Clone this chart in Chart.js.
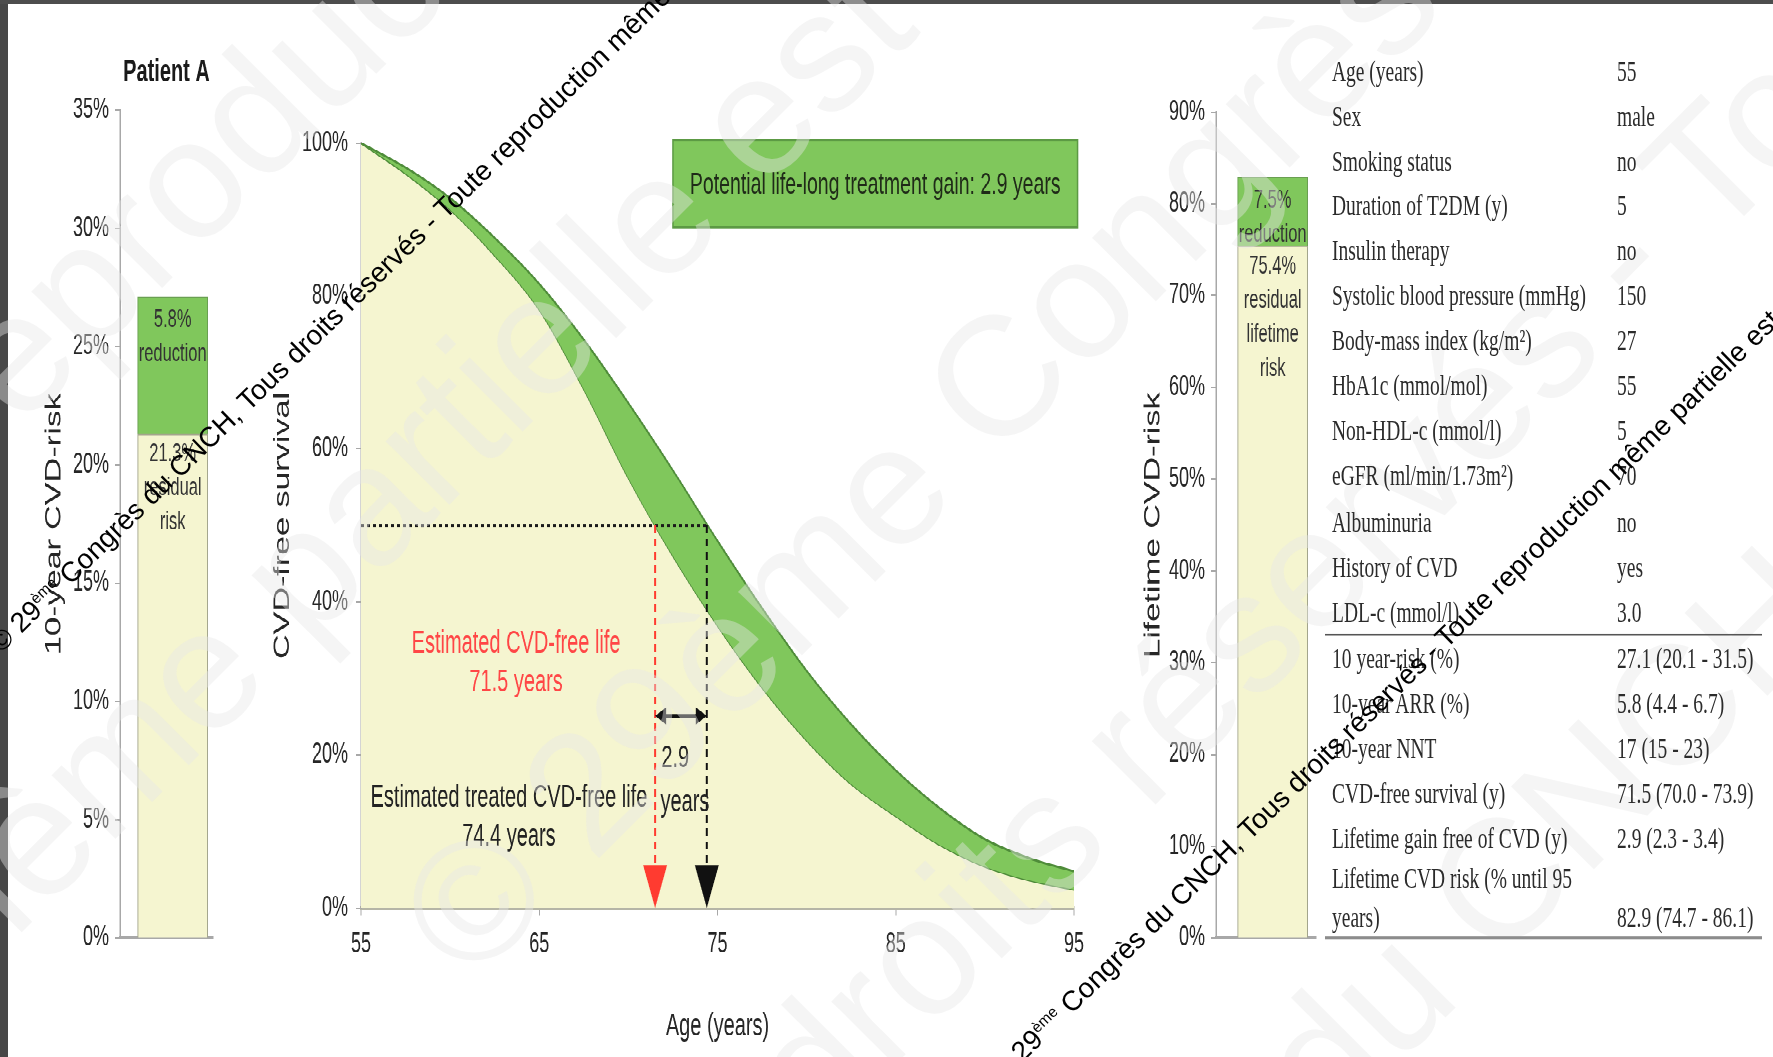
<!DOCTYPE html>
<html lang="en">
<head>
<meta charset="utf-8">
<title>Patient A - CVD risk</title>
<script src="https://cdn.jsdelivr.net/npm/chart.js@4.4.1/dist/chart.umd.min.js"></script>
<style>
  html, body { margin: 0; background: #fff; }
  body { position: relative; width: 1773px; height: 1057px; overflow: hidden; font-family: 'Liberation Sans', Arial, sans-serif; }
  .frame-left { position: absolute; left: 0; top: 0; width: 8px; height: 1057px; background: #474747; }
  .frame-top { position: absolute; left: 0; top: 0; width: 1773px; height: 4px; background: #4d4d4d; }
  /* the original figure was stretched vertically, so everything is laid out flat and scaled */
  .fig { position: absolute; left: 0; top: 0; width: 1773px; height: 682px; transform: scaleY(1.55); transform-origin: 0 0; }
  .fig canvas { position: absolute; top: 30px; }
  #tenYear { left: 10px; }
  #survival { left: 240px; }
  #lifetime { left: 1110px; }
  #table { position: absolute; left: 1325px; top: 30.65px; width: 437px; font-family: 'Liberation Serif', 'Times New Roman', serif; font-size: 19.5px; color: #2b2b2b; }
  .row { display: flex; height: 29.1px; line-height: 29.1px; padding-left: 7px; }
  .row .lab { width: 285px; white-space: pre-line; }
  .row.last { height: auto; line-height: 24.5px; align-items: flex-end; }
  .row.sep { border-bottom: 1.3px solid #555; }
  .row.end { border-bottom: 2px solid #8c8c8c; }
  .big { position: absolute; font: 170px 'Liberation Sans', Arial, sans-serif; color: rgba(232, 232, 232, 0.42); white-space: nowrap; line-height: 170px; transform-origin: 0 144px; transform: rotate(-45deg); }
  .wm { position: absolute; font: 28px 'Liberation Sans', Arial, sans-serif; color: #000; white-space: nowrap; line-height: 28px; transform-origin: 0 23.7px; transform: rotate(-44.3deg); }
  .wm sup { font-size: 0.55em; }
</style>
</head>
<body>
<div class="fig">
  <canvas id="tenYear" width="230" height="610"></canvas>
  <canvas id="survival" width="860" height="652"></canvas>
  <canvas id="lifetime" width="220" height="610"></canvas>
</div>
<div class="frame-left"></div>
<div class="frame-top"></div>
<div class="big" style="left:-20px; top:326px">reproduction même partielle est interdite</div>
<div class="big" style="left:-60px; top:870px">même partielle est interdite</div>
<div class="big" style="left:471px; top:842px">© 29ème Congrès du CNCH</div>
<div class="big" style="left:820px; top:996px">droits réservés - Toute reproduction</div>
<div class="big" style="left:1330px; top:989px">du CNCH, Tous droits</div>
<div class="fig">
  <div id="table"></div>
</div>
<div class="wm" style="left:-3.5px; top:626.3px">© 29<sup>ème</sup> Congrès du CNCH, Tous droits réservés - Toute reproduction même partielle est interdite</div>
<div class="wm" style="left:997.5px; top:1055.3px">© 29<sup>ème</sup> Congrès du CNCH, Tous droits réservés - Toute reproduction même partielle est interdite</div>

<script>
// 10-year risk bar (Patient A)
const tenYearResidual = [21.3];
const tenYearReduction = [5.8];
const tenYearTicks = [0, 5, 10, 15, 20, 25, 30, 35];

// lifetime risk bar
const lifetimeResidual = [75.4];
const lifetimeReduction = [7.5];
const lifetimeTicks = [0, 10, 20, 30, 40, 50, 60, 70, 80, 90];

// CVD-free survival curves
const ages =              [55, 57.5, 60,   62.5, 65,   67.5, 70,   72.5, 75,   77.5, 80,   82.5, 85,   87.5, 90,  92.5, 95];
const untreatedSurvival = [100, 96.0, 91.3, 85.3, 78.2, 67.8, 56.2, 46.0, 36.9, 28.8, 21.9, 16.2, 12.0, 8.2, 5.4, 3.6, 2.4];
const treatedSurvival =   [100, 96.8, 92.8, 87.6, 81.6, 74.3, 66.0, 57.2, 48.0, 39.2, 31.0, 24.0, 18.0, 13.0, 9.0, 6.5, 4.8];
const ageTicks = [55, 65, 75, 85, 95];
const survivalTicks = [0, 20, 40, 60, 80, 100];
const untreatedMedian = 71.5;
const treatedMedian = 74.4;
const gainYears = 2.9;

// patient table
const patientLabels = ['Age (years)', 'Sex', 'Smoking status', 'Duration of T2DM (y)', 'Insulin therapy',
  'Systolic blood pressure (mmHg)', 'Body-mass index (kg/m²)', 'HbA1c (mmol/mol)', 'Non-HDL-c (mmol/l)',
  'eGFR (ml/min/1.73m²)', 'Albuminuria', 'History of CVD', 'LDL-c (mmol/l)'];
const patientValues = ['55', 'male', 'no', '5', 'no', '150', '27', '55', '5', '70', 'no', 'yes', '3.0'];
const outcomeLabels = ['10 year-risk (%)', '10-year ARR (%)', '10-year NNT', 'CVD-free survival (y)',
  'Lifetime gain free of CVD (y)', 'Lifetime CVD risk (% until 95\nyears)'];
const outcomeValues = ['27.1 (20.1 - 31.5)', '5.8 (4.4 - 6.7)', '17 (15 - 23)', '71.5 (70.0 - 73.9)',
  '2.9 (2.3 - 3.4)', '82.9 (74.7 - 86.1)'];

const yellow = '#f5f5d0';
const green = '#80c75c';
const bandEdge = '#4f8c3a';
const axisGrey = '#a8a8a8';
const textGrey = '#262626';
const sans = "'Liberation Sans', Arial, sans-serif";

Chart.defaults.font.family = sans;

// pin axis sizes so the plot areas land where the figure has them
function fixSize(size) {
  return (scale) => {
    if (scale.isHorizontal()) scale.height = size;
    else scale.width = size;
    scale.paddingTop = 0;
    scale.paddingBottom = 0;
    scale.paddingLeft = 0;
    scale.paddingRight = 0;
  };
}

function useTicks(list) {
  return (scale) => { scale.ticks = list.map(v => ({ value: v })); };
}

const barNotes = {
  id: 'barNotes',
  afterDatasetsDraw(chart, args, opts) {
    const { ctx, chartArea } = chart;
    ctx.save();
    ctx.fillStyle = '#333';
    ctx.textAlign = 'center';
    ctx.textBaseline = 'middle';
    ctx.font = '16.5px ' + sans;
    chart.data.datasets.forEach((ds, i) => {
      const bar = chart.getDatasetMeta(i).data[0];
      const top = Math.min(bar.y, bar.base);
      ds.notes.forEach((t, k) => ctx.fillText(t, bar.x, top + ds.noteOffset + k * 22));
    });
    if (opts.heading) {
      ctx.fillStyle = '#1a1a1a';
      ctx.font = 'bold 20px ' + sans;
      ctx.fillText(opts.heading, (chartArea.left + chartArea.right) / 2, chartArea.top - 24);
    }
    ctx.restore();
  }
};

function riskBar(id, residual, reduction, ticks, yMax, notes, layout) {
  return new Chart(document.getElementById(id), {
    type: 'bar',
    data: {
      datasets: [
        {
          data: residual.map(v => ({ x: 0.6, y: v })),
          backgroundColor: yellow,
          borderColor: '#a3a58c',
          borderWidth: 1,
          barThickness: 70,
          notes: notes.residual,
          noteOffset: 13
        },
        {
          data: reduction.map(v => ({ x: 0.6, y: v })),
          backgroundColor: green,
          borderColor: '#6a9f52',
          borderWidth: 1,
          barThickness: 70,
          notes: notes.reduction,
          noteOffset: 15
        }
      ]
    },
    options: {
      responsive: false,
      animation: false,
      devicePixelRatio: 2,
      layout: { padding: { top: layout.top, right: layout.right } },
      plugins: {
        legend: { display: false },
        tooltip: { enabled: false },
        barNotes: { heading: notes.heading }
      },
      scales: {
        x: {
          type: 'linear', min: 0, max: 1, stacked: true, z: 1,
          ticks: { display: false },
          grid: { display: false },
          border: { display: true, color: axisGrey, width: 2 },
          afterFit: fixSize(34.8)
        },
        y: {
          min: 0, max: yMax, stacked: true, z: 1,
          afterBuildTicks: useTicks(ticks),
          ticks: { callback: v => v + '%', font: { size: 18 }, color: textGrey, padding: 6 },
          grid: { drawOnChartArea: false, drawTicks: true, tickLength: 5, color: axisGrey },
          border: { display: true, color: axisGrey, width: 1.5 },
          title: { display: true, text: notes.axis, font: { size: 22 }, color: textGrey, padding: { top: layout.titlePad } },
          afterFit: fixSize(layout.axis)
        }
      }
    },
    plugins: [barNotes]
  });
}

riskBar('tenYear', tenYearResidual, tenYearReduction, tenYearTicks, 35, {
  heading: 'Patient A',
  axis: '10-year CVD-risk',
  reduction: [tenYearReduction[0] + '%', 'reduction'],
  residual: [tenYearResidual[0] + '%', 'residual', 'risk']
}, { top: 41, right: 27, axis: 110, titlePad: 31 });

riskBar('lifetime', lifetimeResidual, lifetimeReduction, lifetimeTicks, 90, {
  axis: 'Lifetime CVD-risk',
  reduction: [lifetimeReduction[0] + '%', 'reduction'],
  residual: [lifetimeResidual[0] + '%', 'residual', 'lifetime', 'risk']
}, { top: 42.3, right: 14, axis: 106, titlePad: 30 });

const survivalNotes = {
  id: 'survivalNotes',
  afterDatasetsDraw(chart) {
    const { ctx, scales: { x, y } } = chart;
    const px = v => x.getPixelForValue(v);
    const py = v => y.getPixelForValue(v);
    ctx.save();

    // median guide
    ctx.setLineDash([3, 3]);
    ctx.lineWidth = 2;
    ctx.strokeStyle = '#1a1a1a';
    ctx.beginPath();
    ctx.moveTo(px(55), py(50));
    ctx.lineTo(px(treatedMedian), py(50));
    ctx.stroke();

    // drop lines down to the age axis
    [[untreatedMedian, '#ff3b30'], [treatedMedian, '#111']].forEach(([age, col]) => {
      const cx = px(age);
      ctx.setLineDash([5, 3.5]);
      ctx.lineWidth = 2;
      ctx.strokeStyle = col;
      ctx.beginPath();
      ctx.moveTo(cx, py(50));
      ctx.lineTo(cx, py(5.6));
      ctx.stroke();
      ctx.setLineDash([]);
      ctx.fillStyle = col;
      ctx.beginPath();
      ctx.moveTo(cx - 12, py(5.6));
      ctx.lineTo(cx + 12, py(5.6));
      ctx.lineTo(cx, py(0));
      ctx.closePath();
      ctx.fill();
    });

    // gain arrow
    const ay = py(25.1);
    const a0 = px(untreatedMedian);
    const a1 = px(treatedMedian);
    ctx.lineWidth = 2.6;
    ctx.strokeStyle = '#111';
    ctx.fillStyle = '#111';
    ctx.beginPath();
    ctx.moveTo(a0 + 8, ay);
    ctx.lineTo(a1 - 8, ay);
    ctx.stroke();
    [[a0, 1], [a1, -1]].forEach(([ex, d]) => {
      ctx.beginPath();
      ctx.moveTo(ex, ay);
      ctx.lineTo(ex + 11 * d, ay - 5.5);
      ctx.lineTo(ex + 11 * d, ay + 5.5);
      ctx.closePath();
      ctx.fill();
    });

    // labels
    ctx.font = '20px ' + sans;
    ctx.textBaseline = 'middle';
    ctx.textAlign = 'center';
    ctx.fillStyle = '#ff4646';
    ctx.fillText('Estimated CVD-free life', px(63.7), py(34.5));
    ctx.fillText(untreatedMedian + ' years', px(63.7), py(29.4));
    ctx.fillStyle = '#222';
    ctx.fillText('Estimated treated CVD-free life', px(63.3), py(14.4));
    ctx.fillText(treatedMedian + ' years', px(63.3), py(9.3));
    ctx.textAlign = 'left';
    ctx.fillText(String(gainYears), px(71.85), py(19.5));
    ctx.fillText('years', px(71.8), py(13.7));

    // gain box
    const bx0 = px(72.5), bx1 = px(95.2), by0 = py(100.4), by1 = py(89.0);
    ctx.fillStyle = green;
    ctx.fillRect(bx0, by0, bx1 - bx0, by1 - by0);
    ctx.strokeStyle = '#5c9a44';
    ctx.lineWidth = 1.5;
    ctx.strokeRect(bx0, by0, bx1 - bx0, by1 - by0);
    ctx.fillStyle = '#1f2a18';
    ctx.textAlign = 'center';
    ctx.font = '19.5px ' + sans;
    ctx.fillText('Potential life-long treatment gain: ' + gainYears + ' years', (bx0 + bx1) / 2, (by0 + by1) / 2 + 1);
    ctx.restore();
  }
};

new Chart(document.getElementById('survival'), {
  type: 'line',
  data: {
    datasets: [
      {
        label: 'treated',
        data: ages.map((a, i) => ({ x: a, y: treatedSurvival[i] })),
        borderColor: bandEdge,
        borderWidth: 1.5,
        backgroundColor: green,
        fill: '+1',
        pointRadius: 0,
        cubicInterpolationMode: 'monotone'
      },
      {
        label: 'untreated',
        data: ages.map((a, i) => ({ x: a, y: untreatedSurvival[i] })),
        borderColor: bandEdge,
        borderWidth: 1.5,
        backgroundColor: yellow,
        fill: 'origin',
        pointRadius: 0,
        cubicInterpolationMode: 'monotone'
      }
    ]
  },
  options: {
    responsive: false,
    animation: false,
    devicePixelRatio: 2,
    layout: { padding: { top: 62.3, right: 26 } },
    plugins: { legend: { display: false }, tooltip: { enabled: false } },
    scales: {
      x: {
        type: 'linear', min: 55, max: 95, z: 1,
        afterBuildTicks: useTicks(ageTicks),
        ticks: { font: { size: 18 }, color: textGrey, padding: 8 },
        grid: { drawOnChartArea: false, drawTicks: true, tickLength: 5, color: axisGrey },
        border: { display: true, color: '#b5b5a6', width: 2.5 },
        title: { display: true, text: 'Age (years)', font: { size: 20 }, color: textGrey, padding: { bottom: 7.4 } },
        afterFit: fixSize(96.2)
      },
      y: {
        min: 0, max: 100, z: 1,
        afterBuildTicks: useTicks(survivalTicks),
        ticks: { callback: v => v + '%', font: { size: 18 }, color: textGrey, padding: 8 },
        grid: { drawOnChartArea: false, drawTicks: true, tickLength: 5, color: axisGrey },
        border: { display: true, color: axisGrey, width: 1.5 },
        title: { display: true, text: 'CVD-free survival', font: { size: 22 }, color: textGrey, padding: { top: 29.8 } },
        afterFit: fixSize(121)
      }
    }
  },
  plugins: [survivalNotes]
});

// patient characteristics and outcomes
const table = document.getElementById('table');
function addRow(label, value, cls) {
  const row = document.createElement('div');
  row.className = 'row' + (cls ? ' ' + cls : '');
  const lab = document.createElement('span');
  lab.className = 'lab';
  lab.textContent = label;
  const val = document.createElement('span');
  val.textContent = value;
  row.appendChild(lab);
  row.appendChild(val);
  table.appendChild(row);
}
patientLabels.forEach((l, i) => addRow(l, patientValues[i], i === patientLabels.length - 1 ? 'sep' : ''));
outcomeLabels.forEach((l, i) => addRow(l, outcomeValues[i], i === outcomeLabels.length - 1 ? 'last end' : ''));
</script>
</body>
</html>
